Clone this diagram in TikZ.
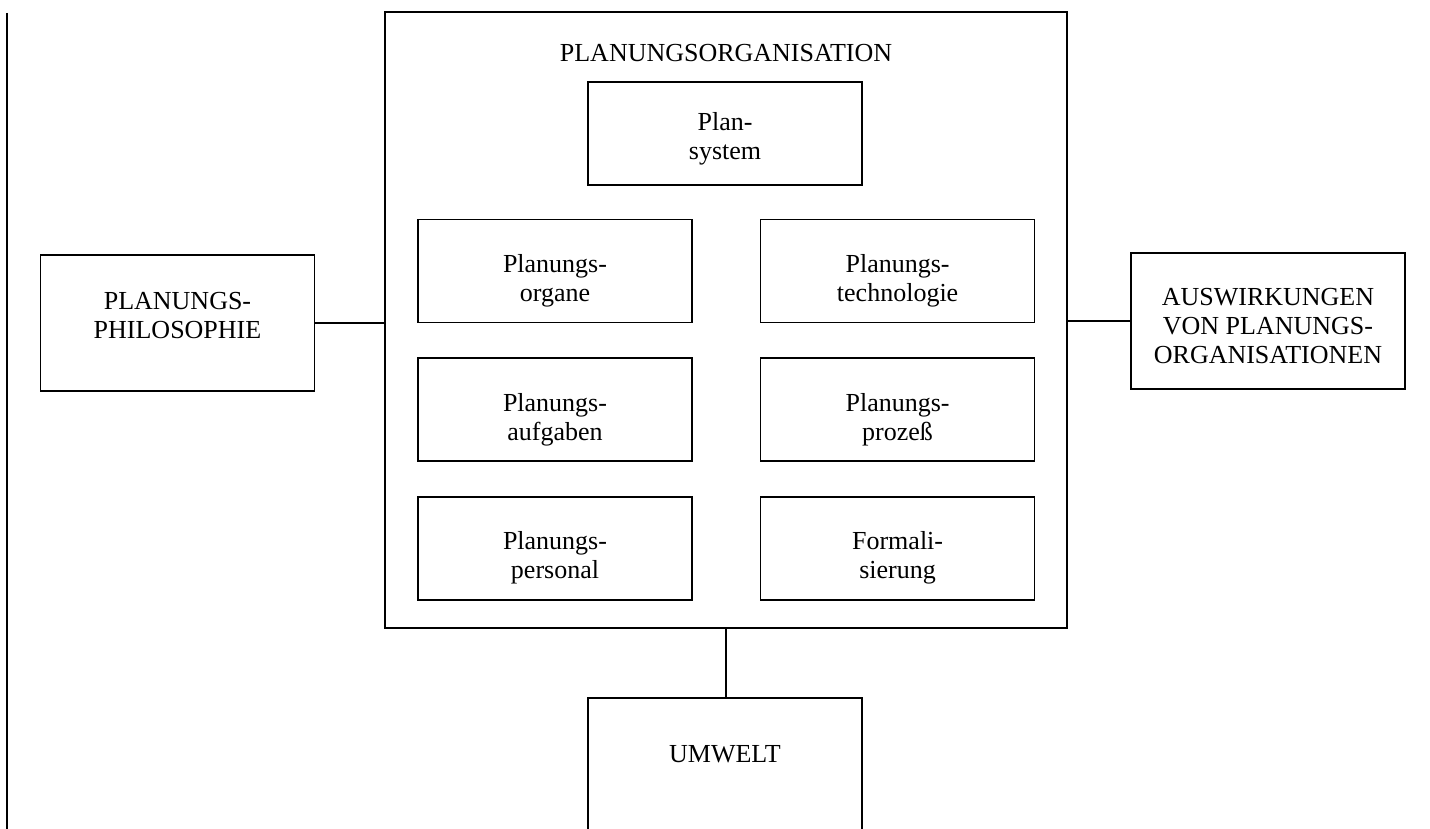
\documentclass[tikz,border=0pt]{standalone}
\usepackage{fontspec}
\setmainfont{Liberation Serif}
\usetikzlibrary{positioning}

\begin{document}
\begin{tikzpicture}[
        x=0.5pt, y=-0.5pt,
        every node/.style={align=center, font=\fontsize{13}{14.5}\selectfont},
        innerbox/.style={draw, rectangle, line width=0.8pt, minimum width=137pt, minimum height=51.5pt, text height=33.5pt},
        sidebox/.style={draw, rectangle, line width=0.8pt, minimum width=137pt, minimum height=68pt},
        link/.style={draw, line width=1.2pt}
    ]
        \useasboundingbox (0,0) rectangle (1430,829);
        \draw[line width=0.9pt] (7,13) -- (7,829);
        % Planungsorganisation
        \node[draw, line width=0.8pt, minimum width=341pt, minimum height=308pt] (org) at (726,320) {};
        \node[anchor=base] (orgtitle) at (726,62) {PLANUNGSORGANISATION};
        \node[innerbox, text height=28.5pt] (plansys) at (725,133.5) {Plan-\\system};
        \node[innerbox] (organe) at (555,271) {Planungs-\\organe};
        \node[innerbox, right=33.5pt of organe] (technologie) {Planungs-\\technologie};
        \node[innerbox, below=17pt of organe] (aufgaben) {Planungs-\\aufgaben};
        \node[innerbox, right=33.5pt of aufgaben] (prozess) {Planungs-\\prozeß};
        \node[innerbox, below=17pt of aufgaben] (personal) {Planungs-\\personal};
        \node[innerbox, right=33.5pt of personal] (formal) {Formali-\\sierung};
        % Umfeld
        \node[sidebox, text depth=8pt] (philo) at (177.5,323) {PLANUNGS-\\PHILOSOPHIE};
        \node[sidebox, text height=43pt] (auswirk) at (1268,321) {AUSWIRKUNGEN\\VON PLANUNGS-\\ORGANISATIONEN};
        \node[sidebox, anchor=north, minimum height=75pt, text depth=19pt] (umwelt) at (725,697) {UMWELT};
        \draw[link] (philo.east) -- (philo.east -| org.west);
        \draw[link] (auswirk.west) -- (auswirk.west -| org.east);
        \draw[link] (org.south) -- (org.south |- umwelt.north);
    \end{tikzpicture}
\end{document}
